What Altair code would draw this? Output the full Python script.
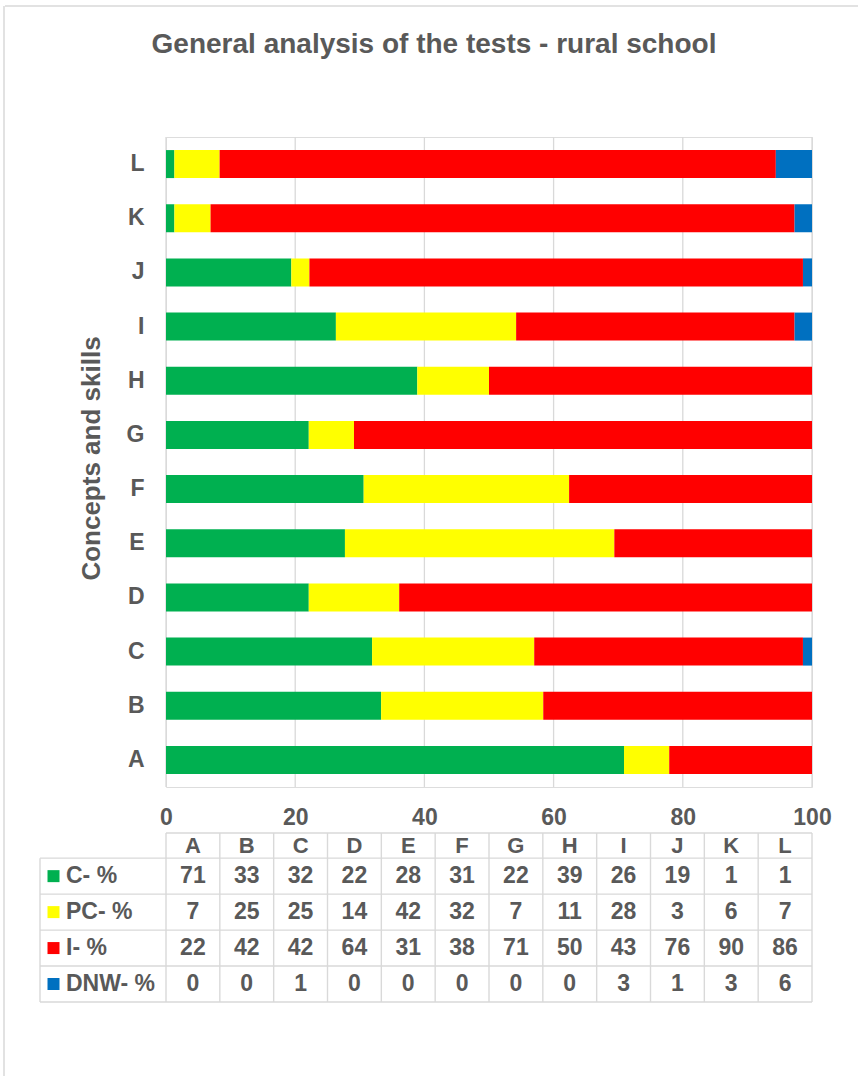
import math

import altair as alt
import pandas as pd

# Concepts/skills (rows of the bar chart, columns of the data table)
skills = ["A", "B", "C", "D", "E", "F", "G", "H", "I", "J", "K", "L"]

# Result categories, in stacking order
series = ["C- %", "PC- %", "I- %", "DNW- %"]
colors = ["#00B050", "#FFFF00", "#FF0000", "#0070C0"]

# Percentage of pupils per skill and result
correct = [70.9, 33.3, 31.9, 22.1, 27.7, 30.6, 22.1, 38.9, 26.3, 19.4, 1.3, 1.3]
partial = [7.0, 25.1, 25.1, 14.0, 41.7, 31.8, 7.0, 11.1, 27.9, 2.8, 5.6, 7.0]
incorrect = [22.1, 41.6, 41.6, 63.9, 30.6, 37.6, 70.9, 50.0, 43.1, 76.4, 90.4, 86.1]
did_not_work = [0.0, 0.0, 1.4, 0.0, 0.0, 0.0, 0.0, 0.0, 2.7, 1.4, 2.7, 5.6]

x_ticks = [0, 20, 40, 60, 80, 100]

TITLE = "General analysis of the tests - rural school"
Y_TITLE = "Concepts and skills"

FONT = "Liberation Sans"
TXT = "#595959"
GRID = "#D9D9D9"

PLOT_W = 646
PLOT_H = 650

# ---- table geometry (x in axis units 0..100, y in row units) ----
N = len(skills)
COL_W = 100.0 / N
PX_PER_UNIT = PLOT_W / 100.0
LEG_LEFT = -126 / PX_PER_UNIT        # left border of the legend column
LEG_SWATCH = -112.5 / PX_PER_UNIT    # colour swatch centre
LEG_TEXT = -100 / PX_PER_UNIT        # start of the series label
HEAD_H = 0.7                         # header row height (in row units)
ROWS_END = HEAD_H + len(series)

values = [correct, partial, incorrect, did_not_work]


def half_up(v):
    return str(int(math.floor(v + 0.5 + 1e-9)))


records = []
for k, (name, vals) in enumerate(zip(series, values)):
    for i, (s, v) in enumerate(zip(skills, vals)):
        records.append({
            "skill": s,
            "series": name,
            "k": k,
            "value": v,
            "label": half_up(v),
            "cx": (i + 0.5) * COL_W,
            "ty": HEAD_H + k + 0.5,
        })
long = pd.DataFrame(records)

heads = pd.DataFrame({
    "skill": skills,
    "cx": [(i + 0.5) * COL_W for i in range(N)],
    "ty": [HEAD_H / 2] * N,
})
legend_rows = pd.DataFrame({
    "series": series,
    "ty": [HEAD_H + k + 0.5 for k in range(len(series))],
    "sx": [LEG_SWATCH] * len(series),
    "lx": [LEG_TEXT] * len(series),
})

# table borders as explicit segments (x1,y1) -> (x2,y2)
segments = (
    [{"x1": 0.0, "x2": 100.0, "y1": 0.0, "y2": 0.0}]
    + [{"x1": LEG_LEFT, "x2": 100.0, "y1": HEAD_H + r, "y2": HEAD_H + r}
       for r in range(len(series) + 1)]
    + [{"x1": i * COL_W, "x2": i * COL_W, "y1": 0.0, "y2": ROWS_END}
       for i in range(N + 1)]
    + [{"x1": LEG_LEFT, "x2": LEG_LEFT, "y1": HEAD_H, "y2": ROWS_END}]
)
borders = pd.DataFrame(segments)
grid_df = pd.DataFrame({"tick": x_ticks})

xscale = alt.Scale(domain=[0, 100], nice=False)
x_axis = alt.Axis(
    values=x_ticks, grid=False, domain=False, ticks=False,
    labelFlush=False, labelPadding=19,
    labelFont=FONT, labelFontSize=23, labelFontWeight="bold",
    labelColor=TXT, title=None, orient="bottom",
)
tscale = alt.Scale(domain=[0, ROWS_END], range=[696, 865], nice=False, zero=False)
color = alt.Color("series:N", scale=alt.Scale(domain=series, range=colors), legend=None)

# vertical gridlines drawn as thin full-height ticks at the x tick values
gridlines = alt.Chart(grid_df).mark_tick(
    color=GRID, thickness=1.3, size=PLOT_H, orient="vertical", opacity=1
).encode(
    x=alt.X("tick:Q", scale=xscale, axis=x_axis),
    y=alt.value(PLOT_H / 2),
)

bars = alt.Chart(long).mark_bar().encode(
    x=alt.X("value:Q", stack="zero", scale=xscale, axis=x_axis),
    y=alt.Y(
        "skill:N",
        sort=skills[::-1],
        scale=alt.Scale(paddingInner=0.483, paddingOuter=0.2415),
        axis=alt.Axis(
            grid=False, domain=False, ticks=False, labelPadding=22,
            labelFont=FONT, labelFontSize=23, labelFontWeight="bold",
            labelColor=TXT, title=Y_TITLE, titleFont=FONT, titleFontSize=26,
            titleFontWeight="bold", titleColor=TXT, titleX=-75, titleY=321,
            titleAngle=-90, titleBaseline="middle", titleAlign="center",
        ),
    ),
    color=color,
    order=alt.Order("k:Q"),
)

table_grid = alt.Chart(borders).mark_rule(color=GRID, strokeWidth=1.4).encode(
    x=alt.X("x1:Q", scale=xscale, axis=x_axis),
    x2="x2:Q",
    y=alt.Y("y1:Q", scale=tscale, axis=None),
    y2="y2:Q",
)

head_text = alt.Chart(heads).mark_text(
    font=FONT, fontSize=22, fontWeight="bold", color=TXT, baseline="middle"
).encode(
    x=alt.X("cx:Q", scale=xscale, axis=x_axis),
    y=alt.Y("ty:Q", scale=tscale, axis=None),
    text="skill:N",
)

cell_text = alt.Chart(long).mark_text(
    font=FONT, fontSize=23, fontWeight="bold", color=TXT, baseline="middle"
).encode(
    x=alt.X("cx:Q", scale=xscale, axis=x_axis),
    y=alt.Y("ty:Q", scale=tscale, axis=None),
    text="label:N",
)

swatches = alt.Chart(legend_rows).mark_point(
    shape="square", filled=True, size=144, opacity=1
).encode(
    x=alt.X("sx:Q", scale=xscale, axis=x_axis),
    y=alt.Y("ty:Q", scale=tscale, axis=None),
    color=color,
)

legend_text = alt.Chart(legend_rows).mark_text(
    font=FONT, fontSize=23, fontWeight="bold", color=TXT,
    align="left", baseline="middle",
).encode(
    x=alt.X("lx:Q", scale=xscale, axis=x_axis),
    y=alt.Y("ty:Q", scale=tscale, axis=None),
    text="series:N",
)

# chart title, centred over the whole figure
title_src = pd.DataFrame({"t": [TITLE]})
title_mark = alt.Chart(title_src).mark_text(
    font=FONT, fontSize=28, fontWeight="bold", color=TXT,
    align="center", baseline="alphabetic",
).encode(text="t:N", x=alt.value(268), y=alt.value(-84))

# thin outer frame along the top and left edges
frame_src = pd.DataFrame({"a": [0]})
frame_top = alt.Chart(frame_src).mark_rule(color=GRID, strokeWidth=1.5).encode(
    x=alt.value(-161), x2=alt.value(692), y=alt.value(-131), y2=alt.value(-131)
)
frame_left = alt.Chart(frame_src).mark_rule(color=GRID, strokeWidth=1.5).encode(
    x=alt.value(-162), x2=alt.value(-162), y=alt.value(-131), y2=alt.value(939)
)

chart = (
    alt.layer(
        frame_top, frame_left, gridlines, bars, table_grid,
        head_text, cell_text, swatches, legend_text, title_mark,
    )
    .resolve_scale(y="independent")
    .properties(
        width=PLOT_W,
        height=PLOT_H,
        autosize=alt.AutoSizeParams(type="none"),
        padding={"left": 166, "top": 137, "right": 46, "bottom": 289},
    )
    .configure_view(stroke=None, strokeWidth=0)
    .configure_axis(domain=False, grid=False)
    .configure(background="white")
)

chart.save("out.html", embed_options={"renderer": "svg", "actions": False})
